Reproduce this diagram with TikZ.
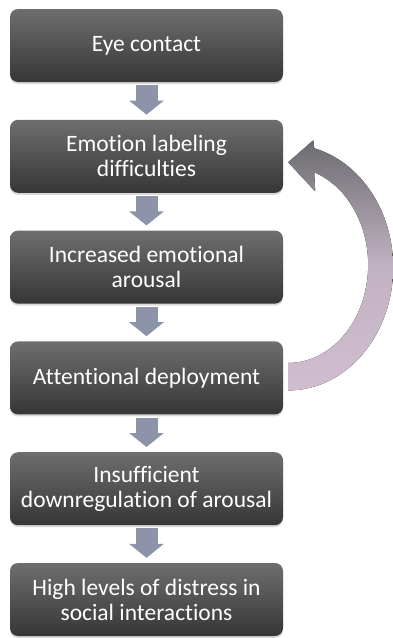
\documentclass[tikz,border=0pt]{standalone}
\usepackage{fontspec}
\setmainfont{Carlito}[Ligatures=NoCommon]
\usetikzlibrary{arrows.meta,shadows}
\definecolor{boxtop}{RGB}{110,110,110}
\definecolor{boxbot}{RGB}{54,54,54}
\definecolor{flowcol}{RGB}{141,147,168}
\definecolor{loopgray}{RGB}{108,108,112}
\definecolor{loopmauve}{RGB}{208,190,208}

\begin{document}
\begin{tikzpicture}[x=1pt, y=-1pt,
    stage/.style={rounded corners=8pt, top color=boxtop, bottom color=boxbot, minimum width=273pt, minimum height=73pt, inner sep=2pt, align=center, text=white, font=\fontsize{23.5}{25}\selectfont, drop shadow={opacity=0.3, shadow xshift=0pt, shadow yshift=-2pt}},
    flow/.style={draw=flowcol, line width=22pt, -{Triangle[width=34pt, length=14pt]}, shorten <=3pt, shorten >=5pt},
    loop/.style={top color=loopgray, bottom color=loopmauve, middle color=loopmauve!85!loopgray}
]
    \useasboundingbox (0,0) rectangle (392,638);

    % Stages
    \node[stage] (eye) at (146.5,45.5) {Eye contact};
    \node[stage] (label) at (146.5,156.3) {Emotion labeling\\difficulties};
    \node[stage] (arousal) at (146.5,267.1) {Increased emotional\\arousal};
    \node[stage] (attend) at (146.5,377.9) {Attentional deployment};
    \node[stage] (downreg) at (146.5,488.7) {Insufficient\\downregulation of arousal};
    \node[stage] (distress) at (146.5,599.5) {High levels of distress in\\social interactions};

    % Arrows down
    \draw[flow] (eye) -- (label);
    \draw[flow] (label) -- (arousal);
    \draw[flow] (arousal) -- (attend);
    \draw[flow] (attend) -- (downreg);
    \draw[flow] (downreg) -- (distress);

    % Feedback loop
    \fill[loop] ([shift={(5,12.5)}]attend.east) arc[start angle=-90, end angle=75.6, x radius=105pt, y radius=123pt]
        -- ++(-1,-8) -- ([shift={(5,6)}]label.east) -- ++(27,29) -- ++(-1,-19)
        arc[start angle=71, end angle=-90, x radius=80pt, y radius=98pt] -- cycle;

\end{tikzpicture}
\end{document}
